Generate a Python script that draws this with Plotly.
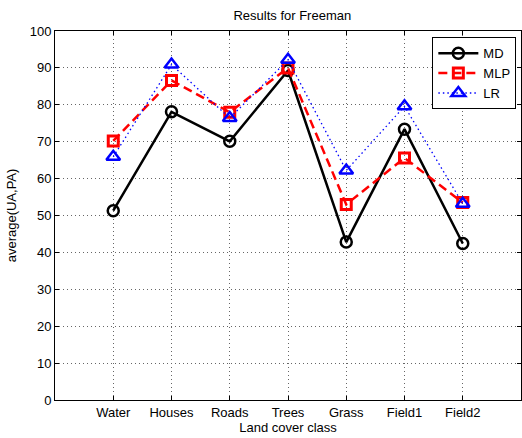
import plotly.graph_objects as go

categories = ["Water", "Houses", "Roads", "Trees", "Grass", "Field1", "Field2"]
md = [51.3, 78.1, 70.1, 89.3, 42.8, 73.4, 42.4]
mlp = [70.2, 86.6, 78.0, 90.0, 53.0, 65.6, 53.5]
lr = [65.9, 90.9, 76.4, 92.2, 62.2, 79.6, 53.2]
yticks = list(range(0, 101, 10))

x = list(range(1, len(categories) + 1))
font = "Liberation Sans, Arial, sans-serif"

fig = go.Figure()
fig.add_trace(go.Scatter(x=x, y=md, name="MD", mode="lines+markers",
                         line=dict(color="black", width=2.5),
                         marker=dict(symbol="circle-open", size=11, color="black",
                                     line=dict(width=2.5, color="black"))))
fig.add_trace(go.Scatter(x=x, y=mlp, name="MLP", mode="lines+markers",
                         line=dict(color="red", width=2.5, dash="9px,5px"),
                         marker=dict(symbol="square-open", size=10, color="red",
                                     line=dict(width=3, color="red"))))
fig.add_trace(go.Scatter(x=x, y=lr, name="LR", mode="lines+markers",
                         line=dict(color="blue", width=1.3, dash="1.5px,3px"),
                         marker=dict(symbol="triangle-up-open", size=12, color="blue",
                                     line=dict(width=2.5, color="blue"))))

grid = dict(showgrid=True, gridcolor="#666", griddash="1px,3px", gridwidth=1,
            ticks="inside", ticklen=4, tickcolor="black", mirror="ticks",
            showline=True, linecolor="black", linewidth=1, zeroline=False,
            tickfont=dict(size=13))

fig.update_layout(
    width=522, height=438,
    margin=dict(l=55, r=1, t=31, b=38),
    paper_bgcolor="white", plot_bgcolor="white",
    font=dict(family=font, size=13, color="black"),
    title=dict(text="Results for Freeman", x=0.56, xanchor="center", y=0.964, yanchor="middle",
               font=dict(size=13, family=font)),
    showlegend=True,
    legend=dict(x=0.99, y=0.983, xanchor="right", yanchor="top",
                bgcolor="white", bordercolor="black", borderwidth=1,
                font=dict(size=13, family=font), tracegroupgap=0,
                itemwidth=40),
    xaxis=dict(range=[0, 8], tickmode="array", tickvals=x, ticktext=categories,
               title=dict(text="Land cover class", standoff=3, font=dict(size=13)),
               **grid),
    yaxis=dict(range=[0, 100], tickmode="array", tickvals=yticks,
               title=dict(text="average(UA,PA)", standoff=10, font=dict(size=13)),
               **grid),
)

fig.write_html("out.html")
